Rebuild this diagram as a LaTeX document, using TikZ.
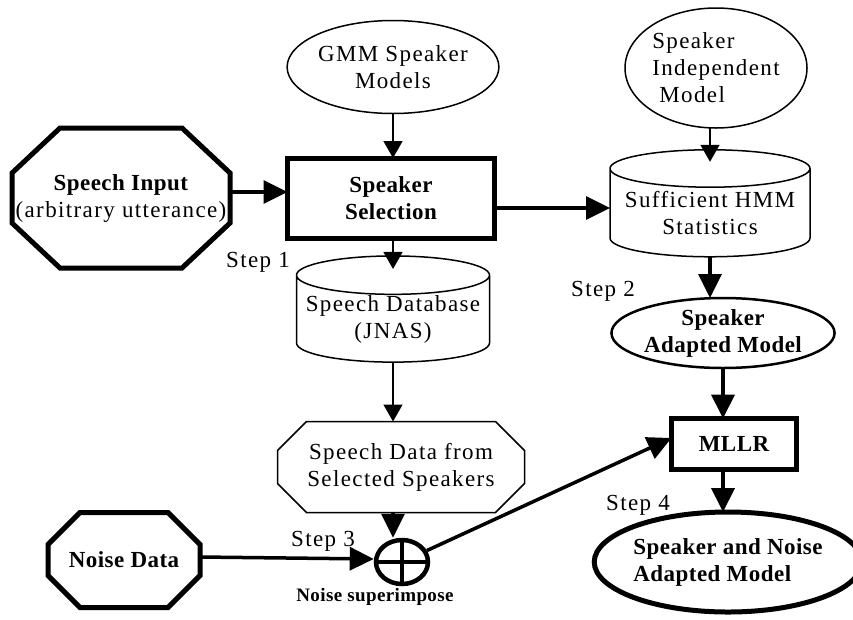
\documentclass[tikz,border=0pt]{standalone}
\usepackage{fontspec}
\setmainfont[LetterSpace=6, BoldFeatures={LetterSpace=2}]{Liberation Serif}
\usetikzlibrary{arrows.meta}
\usetikzlibrary{shapes.geometric}
\tikzset{txt/.style = {font=\fontsize{23}{27}\selectfont, align=center, inner sep=0, outer sep=0}}
\tikzset{bftxt/.style = {txt, font=\fontsize{23}{27}\selectfont\bfseries}}
\tikzset{oval/.style = {txt, draw, ellipse, line width=1.5pt}}
\tikzset{cyl/.style = {txt, draw, cylinder, shape border rotate=90, line width=1.5pt}}
\tikzset{thinarr/.style = {line width=1.5pt, -{Triangle[length=17pt, width=19pt]}}}
\tikzset{thickarr/.style = {line width=3.5pt, -{Triangle[length=24pt, width=23pt]}}}
% octagon round a node: name, x cut, y cut
\newcommand{\chamfer}[3]{
  ([xshift=#2]#1.north west) -- ([xshift=-#2]#1.north east) -- ([yshift=-#3]#1.north east)
  -- ([yshift=#3]#1.south east) -- ([xshift=-#2]#1.south east) -- ([xshift=#2]#1.south west)
  -- ([yshift=#3]#1.south west) -- ([yshift=-#3]#1.north west) -- cycle}

\begin{document}
\begin{tikzpicture}[x=1pt, y=-1pt]
    \useasboundingbox (0, 0) rectangle (853, 619);

    % inputs
    \node [txt, minimum width=218pt, minimum height=140pt]
      (inp) at (121, 198) {\textbf{Speech Input}\\(arbitrary utterance)};
    \draw [line width=5pt] \chamfer{inp}{48pt}{45pt};
    \node [bftxt, minimum width=152pt, minimum height=95pt] (noise) at (124, 560) {Noise Data};
    \draw [line width=5pt] \chamfer{noise}{32pt}{32pt};

    % step 1
    \node [oval, minimum width=200pt, minimum height=93pt] (gmm) at (393, 67) {GMM Speaker\\Models};
    \node [bftxt, draw, line width=5pt, minimum width=207pt, minimum height=80pt]
      (sel) at (391, 198) {Speaker\\Selection};
    \node [cyl, aspect=0.22, minimum width=193pt, minimum height=102pt] (db) at (393, 319) {Speech Database\\(JNAS)};
    \node [txt] (s1) at (258, 262) {Step 1};

    % step 2
    \node [oval, minimum width=182pt, minimum height=120pt, align=left] (sim) at (716, 68) {Speaker\\Independent\\\ Model};
    \node [cyl, aspect=0.22, minimum width=200pt, minimum height=107pt] (suff) at (710, 213) {Sufficient HMM\\Statistics};
    \node [oval, bftxt, line width=2.5pt, minimum width=197pt, minimum height=70pt] (sam) at (723, 333) {Speaker\\Adapted Model};
    \node [txt] (s2) at (603, 291) {Step 2};

    % step 3
    \node [txt, minimum width=247pt, minimum height=91pt] (sdata) at (401, 467) {Speech Data from\\Selected Speakers};
    \draw [line width=1.5pt] \chamfer{sdata}{29pt}{29pt};
    \node [draw, ellipse, line width=4.5pt, minimum width=52pt, minimum height=44pt, inner sep=0,
      path picture={
        \draw [line width=4.5pt] (path picture bounding box.north) -- (path picture bounding box.south);
        \draw [line width=4.5pt] (path picture bounding box.west) -- (path picture bounding box.east);
      }] (plus) at (402, 562) {};
    \node [bftxt, font=\fontsize{19}{23}\selectfont\bfseries] (sup) at (375, 597) {Noise superimpose};
    \node [txt] (s3) at (323, 541) {Step 3};

    % step 4
    \node [bftxt, draw, line width=5pt, minimum width=125pt, minimum height=51pt] (mllr) at (734, 444) {MLLR};
    \node [bftxt, draw, ellipse, line width=5pt, minimum width=244pt, minimum height=100pt, align=left]
      (final) at (728, 562) {Speaker and Noise\\Adapted Model};
    \node [txt] (s4) at (638, 505) {Step 4};

    % arrows
    \draw [thickarr] ([yshift=6pt]inp.east) -- ([yshift=6pt]sel.west);
    \draw [thinarr] (gmm.south) -- (gmm.south |- sel.north);
    \draw [thickarr] ([yshift=-10pt]sel.east) -- ([yshift=-10pt]sel.east -| suff.west);
    \draw [thinarr] (db.north |- sel.south) -- ([yshift=-13pt]db.north);
    \draw [thinarr] (suff.north |- sim.south) -- ([yshift=-12pt]suff.north);
    \draw [thickarr] (suff.south) -- (suff.south |- sam.north);
    \draw [thinarr] (db.south) -- (db.south |- sdata.north);
    \draw [thickarr] (db.south |- sdata.south) -- (db.south |- plus.north);
    \draw [thickarr] ([yshift=3pt]noise.east) -- ([yshift=3pt]plus.west);
    \draw [thickarr] (plus) -- ([yshift=6pt]mllr.west);
    \draw [thickarr, line width=4pt] (sam.south) -- (sam.south |- mllr.north);
    \draw [thickarr, line width=4pt] (sam.south |- mllr.south) -- (sam.south |- final.north);
\end{tikzpicture}
\end{document}
